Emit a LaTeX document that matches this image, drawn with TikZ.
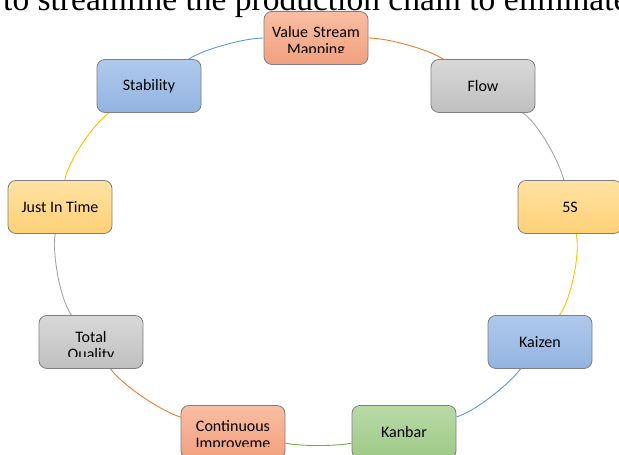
\documentclass[tikz,border=0pt]{standalone}
\usepackage{fontspec}
\setmainfont{Liberation Serif}
\newfontfamily\calibri{Carlito}
\usepackage{tikz}
\usetikzlibrary{calc}
\usepackage{xcolor}
\definecolor{boxedge}{HTML}{7F7F7F}
\definecolor{arcorange}{HTML}{ED7D31}
\definecolor{arcgray}{HTML}{A5A5A5}
\definecolor{arcyellow}{HTML}{FFC000}
\definecolor{arcblue}{HTML}{5B9BD5}
\definecolor{arcgreen}{HTML}{70AD47}
\definecolor{orangetop}{HTML}{F9BEA3}
\definecolor{orangebot}{HTML}{F2A07E}
\definecolor{bluetop}{HTML}{AFC9EC}
\definecolor{bluebot}{HTML}{93B4E0}
\definecolor{graytop}{HTML}{D8D8D8}
\definecolor{graybot}{HTML}{C0C0C0}
\definecolor{yellowtop}{HTML}{FFE2A2}
\definecolor{yellowbot}{HTML}{FFD077}
\definecolor{greentop}{HTML}{B9DAA8}
\definecolor{greenbot}{HTML}{9DC985}

\begin{document}
\begin{tikzpicture}[x=1pt, y=1pt,
  stage/.style={draw=boxedge, rounded corners=8pt, line width=0.8pt, minimum width=104pt, minimum height=53pt, inner sep=0pt, font=\calibri\fontsize{16}{17}\selectfont},
  lbl/.style={inner sep=0pt, text width=92pt, align=center, anchor=north, font=\calibri\fontsize{16}{17}\selectfont},
  orangebox/.style={stage, top color=orangetop, bottom color=orangebot},
  bluebox/.style={stage, top color=bluetop, bottom color=bluebot},
  graybox/.style={stage, top color=graytop, bottom color=graybot},
  yellowbox/.style={stage, top color=yellowtop, bottom color=yellowbot},
  greenbox/.style={stage, top color=greentop, bottom color=greenbot},
  link/.style={line width=0.9pt, looseness=0.6}]
  \clip (0,0) rectangle (619,455);

  % heading line cut by the top edge
  \node[anchor=base west, inner sep=0pt, font=\fontsize{33.5}{34}\selectfont] (headline) at (3,444) {to streamline the production chain to eliminate waste};

  % stages round the cycle
  \node[orangebox] (vsm) at (316,417) {};
  \node[graybox] (flow) at (483,369) {Flow};
  \node[yellowbox] (fives) at (570,248) {5S};
  \node[bluebox] (kaizen) at (540,113) {Kaizen};
  \node[greenbox] (kanbar) at (404,23) {Kanbar};
  \node[orangebox] (ci) at (233,23) {};
  \node[graybox] (tq) at (91,113) {};
  \node[yellowbox] (jit) at (60,248) {Just In Time};
  \node[bluebox] (stab) at (149,369) {Stability};

  % labels that run past their boxes, cut inside them
  \begin{scope}
    \clip ($(vsm.south west)+(6,12)$) rectangle ($(vsm.north east)+(-6,0)$);
    \node[lbl] (vsmtext) at ($(vsm.north)+(0,-15)$) {Value Stream\\Mapping};
  \end{scope}
  \begin{scope}
    \clip ($(tq.south west)+(6,12)$) rectangle ($(tq.north east)+(-6,0)$);
    \node[lbl] (tqtext) at ($(tq.north)+(0,-16)$) {Total\\Quality};
  \end{scope}
  \begin{scope}
    \clip ($(ci.south west)+(6,12)$) rectangle ($(ci.north east)+(-6,0)$);
    \node[lbl] (citext) at ($(ci.north)+(0,-15)$) {Continuous\\Improveme\\nt};
  \end{scope}

  % connecting arcs, tangent to the ring
  \draw[link, arcorange] (vsm) to[out=0, in=146] (flow);
  \draw[link, arcgray] (flow) to[out=-34, in=103] (fives);
  \draw[link, arcyellow] (fives) to[out=-77, in=54] (kaizen);
  \draw[link, arcblue] (kaizen) to[out=-126, in=16] (kanbar);
  \draw[link, arcgreen] (kanbar) to[out=192, in=-12] (ci);
  \draw[link, arcorange] (ci) to[out=164, in=-54] (tq);
  \draw[link, arcgray] (tq) to[out=126, in=-100] (jit);
  \draw[link, arcyellow] (jit) to[out=80, in=-146] (stab);
  \draw[link, arcblue] (stab) to[out=34, in=180] (vsm);
\end{tikzpicture}
\end{document}
